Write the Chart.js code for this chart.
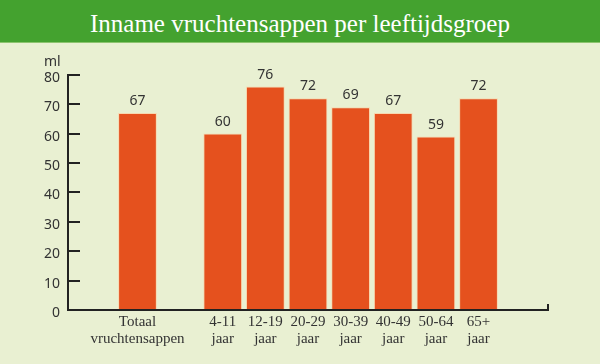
<!DOCTYPE html>
<html>
<head>
<meta charset="utf-8">
<script src="https://cdn.jsdelivr.net/npm/chart.js@4"></script>
<style>
    body { margin: 0; width: 600px; height: 364px; background: #e9f0d2; overflow: hidden; }
    .title-bar {
        height: 42px; line-height: 47px; overflow: hidden;
        background: #44a22f; border-bottom: 1px solid #8cc46e;
        color: #fff; text-align: center;
        font-family: "Liberation Serif", serif; font-size: 25px;
    }
    .chart-box { position: relative; width: 600px; height: 321px; }
</style>
</head>
<body>
<div class="title-bar">Inname vruchtensappen per leeftijdsgroep</div>
<div class="chart-box"><canvas id="barChart"></canvas></div>
<script>
// --- Data ---
const categories = ['Totaal vruchtensappen', '4-11 jaar', '12-19 jaar', '20-29 jaar', '30-39 jaar', '40-49 jaar', '50-64 jaar', '65+ jaar'];
const values = [67, 60, 76, 72, 69, 67, 59, 72];
const yTicks = [0, 10, 20, 30, 40, 50, 60, 70, 80];
const unitLabel = 'ml';

// total bar stands apart, one empty slot after it
const slotOf = i => (i === 0 ? 0 : i + 1);
const xMin = -1.63;
const xMax = slotOf(categories.length - 1) + 1.63;

const labelBySlot = {};
categories.forEach((c, i) => { labelBySlot[slotOf(i)] = c.split(' '); });

const barColor = '#e5511e';
const inkColor = '#222';
const textColor = '#333';

// value labels above the bars
const valueLabels = {
    id: 'valueLabels',
    afterDatasetsDraw(chart) {
        const ctx = chart.ctx;
        const meta = chart.getDatasetMeta(0);
        ctx.save();
        ctx.font = '14px "Noto Sans"';
        ctx.fillStyle = textColor;
        ctx.textAlign = 'center';
        ctx.textBaseline = 'middle';
        meta.data.forEach((bar, i) => {
            ctx.fillText(String(values[i]), bar.x, bar.y - 12);
        });
        ctx.restore();
    }
};

new Chart(document.getElementById('barChart'), {
    type: 'bar',
    data: {
        datasets: [{
            data: values.map((v, i) => ({ x: slotOf(i), y: v })),
            backgroundColor: barColor,
            borderColor: '#f7d8b0',
            borderWidth: 1,
            categoryPercentage: 1,
            barPercentage: 0.91
        }]
    },
    options: {
        responsive: true,
        maintainAspectRatio: false,
        animation: false,
        layout: { padding: { left: 44, right: 52, top: 0, bottom: 0 } },
        plugins: {
            legend: { display: false },
            tooltip: { enabled: false },
            subtitle: {
                display: true,
                text: unitLabel,
                align: 'start',
                color: textColor,
                font: { family: 'Noto Sans', size: 14 },
                padding: { top: 11, bottom: 4 }
            }
        },
        scales: {
            x: {
                type: 'linear',
                min: xMin,
                max: xMax,
                offset: false,
                afterBuildTicks: s => {
                    s.ticks = Object.keys(labelBySlot).map(Number).concat([xMax]).map(v => ({ value: v }));
                },
                afterFit: s => { s.height = 54; },
                border: { color: inkColor, width: 2 },
                grid: {
                    offset: false,
                    drawOnChartArea: false,
                    drawTicks: true,
                    tickLength: -6,
                    lineWidth: 2,
                    color: c => (c.tick && c.tick.value === xMax ? inkColor : 'rgba(0,0,0,0)')
                },
                ticks: {
                    autoSkip: false,
                    maxRotation: 0,
                    padding: 10,
                    color: textColor,
                    font: { family: 'Liberation Serif', size: 15, lineHeight: '17px' },
                    callback: v => labelBySlot[v] || ''
                }
            },
            y: {
                min: 0,
                max: 80,
                afterBuildTicks: s => { s.ticks = yTicks.map(v => ({ value: v })); },
                afterFit: s => { s.width = 24; },
                border: { color: inkColor, width: 2 },
                grid: {
                    drawOnChartArea: false,
                    drawTicks: true,
                    tickLength: -12,
                    lineWidth: 2,
                    color: inkColor
                },
                ticks: {
                    padding: 20,
                    labelOffset: 3,
                    color: textColor,
                    font: { family: 'Noto Sans', size: 14 }
                }
            }
        }
    },
    plugins: [valueLabels]
});
</script>
</body>
</html>
